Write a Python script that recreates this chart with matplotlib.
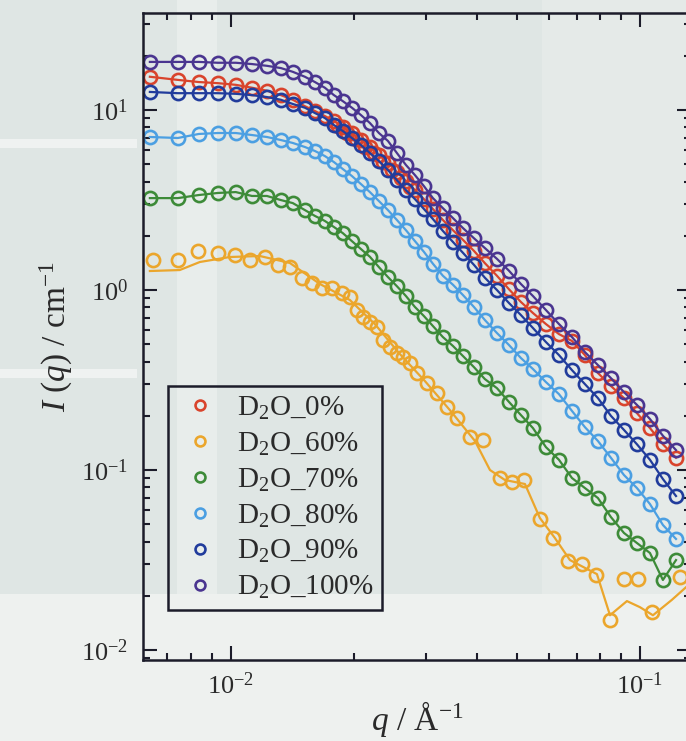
import numpy as np
import matplotlib.pyplot as plt
from matplotlib.patches import Rectangle
from matplotlib.ticker import LogLocator, NullFormatter

plt.rcParams['font.family'] = ['Liberation Serif', 'DejaVu Serif']
plt.rcParams['mathtext.fontset'] = 'custom'
plt.rcParams['mathtext.rm'] = 'Liberation Serif'
plt.rcParams['mathtext.it'] = 'Liberation Serif:italic'
plt.rcParams['axes.unicode_minus'] = False

# scattering vector grid shared by most contrasts (1/A)
q = [0.00634, 0.00742, 0.00835, 0.00929, 0.01028, 0.01126, 0.01225, 0.01325,
     0.01417, 0.01517, 0.01605, 0.01697, 0.01786, 0.01878, 0.01976, 0.02079,
     0.02187, 0.02301, 0.02421, 0.02546, 0.02679, 0.02818, 0.02964, 0.03118,
     0.03298, 0.03490, 0.03692, 0.03928, 0.04178, 0.04471, 0.04784, 0.05117,
     0.05476, 0.05891, 0.06339, 0.06820, 0.07337, 0.07893, 0.08492, 0.09140,
     0.09833, 0.1058, 0.1138, 0.1225]

# intensities (1/cm)
i_0 = [15.3, 14.7, 14.3, 14.1, 13.8, 13.3, 12.8, 12.1, 11.4, 10.5,
       9.87, 9.26, 8.69, 8.05, 7.45, 6.81, 6.23, 5.62, 5.08, 4.52,
       4.03, 3.59, 3.20, 2.82, 2.45, 2.15, 1.90, 1.65, 1.41, 1.20,
       1.01, 0.858, 0.745, 0.647, 0.569, 0.521, 0.435, 0.346, 0.293, 0.251,
       0.207, 0.171, 0.139, 0.117]
# extra overlap points of the 0 % run
q_0x = [0.01826, 0.01921, 0.02021, 0.02126, 0.02237, 0.02353, 0.02475, 0.02604, 0.02740]
i_0x = [8.15, 7.45, 6.90, 6.23, 5.77, 5.14, 4.64, 4.19, 3.73]

i_70 = [3.24, 3.24, 3.37, 3.46, 3.50, 3.33, 3.33, 3.16, 3.04, 2.78,
        2.58, 2.42, 2.24, 2.07, 1.87, 1.69, 1.53, 1.34, 1.18, 1.05,
        0.926, 0.805, 0.717, 0.631, 0.548, 0.489, 0.430, 0.373, 0.320, 0.285,
        0.239, 0.202, 0.171, 0.134, 0.114, 0.0903, 0.0794, 0.0699, 0.0548, 0.0447,
        0.0393, 0.0346, 0.0245, 0.0316]
i_80 = [7.08, 6.99, 7.36, 7.45, 7.45, 7.26, 7.08, 6.81, 6.56, 6.23,
        5.92, 5.55, 5.14, 4.70, 4.30, 3.88, 3.50, 3.12, 2.78, 2.45,
        2.15, 1.87, 1.63, 1.40, 1.20, 1.07, 0.938, 0.805, 0.681, 0.577,
        0.495, 0.419, 0.364, 0.308, 0.264, 0.213, 0.173, 0.145, 0.117, 0.0938,
        0.0794, 0.0647, 0.0495, 0.0414]
i_90 = [12.6, 12.4, 12.4, 12.4, 12.3, 12.1, 11.8, 11.4, 10.8, 10.3,
        9.62, 9.03, 8.25, 7.64, 6.99, 6.39, 5.77, 5.21, 4.64, 4.08,
        3.59, 3.20, 2.82, 2.48, 2.13, 1.85, 1.61, 1.38, 1.17, 1.00,
        0.847, 0.726, 0.615, 0.514, 0.435, 0.359, 0.300, 0.251, 0.200, 0.167,
        0.139, 0.114, 0.0891, 0.0717]
i_100 = [18.5, 18.5, 18.5, 18.3, 18.3, 18.0, 17.6, 17.1, 16.3, 15.3,
         14.3, 13.3, 12.1, 11.2, 10.3, 9.38, 8.47, 7.45, 6.73, 5.77,
         4.95, 4.35, 3.78, 3.24, 2.85, 2.51, 2.21, 1.94, 1.71, 1.49,
         1.28, 1.08, 0.926, 0.774, 0.647, 0.548, 0.452, 0.383, 0.324, 0.271,
         0.230, 0.192, 0.155, 0.129]

# 60 % contrast was measured on its own grid
q_60 = [0.00645, 0.00742, 0.00830, 0.00929, 0.01023, 0.01113, 0.01211, 0.01303,
        0.01394, 0.01492, 0.01578, 0.01669, 0.01766, 0.01868, 0.01954, 0.02033,
        0.02102, 0.02187, 0.02275, 0.02353, 0.02448, 0.02546, 0.02634, 0.02740,
        0.02850, 0.03015, 0.03189, 0.03374, 0.03570, 0.03841, 0.04132, 0.04547,
        0.04864, 0.05204, 0.05694, 0.06128, 0.06668, 0.07214, 0.07805, 0.08449,
        0.09140, 0.09888, 0.1070, 0.1253]
i_60 = [1.47, 1.47, 1.65, 1.61, 1.56, 1.47, 1.53, 1.38, 1.34, 1.17,
        1.09, 1.03, 1.03, 0.962, 0.914, 0.774, 0.708, 0.664, 0.623, 0.527,
        0.482, 0.447, 0.424, 0.393, 0.346, 0.304, 0.268, 0.224, 0.195, 0.153,
        0.147, 0.0903, 0.0858, 0.0880, 0.0534, 0.0419, 0.0312, 0.0300, 0.0261, 0.0147,
        0.0248, 0.0248, 0.0163, 0.0254]
# fitted curve for 60 %
q_60fit = [0.00634, 0.00750, 0.00840, 0.00994, 0.01177, 0.01394, 0.01651, 0.01954,
           0.02249, 0.02589, 0.02981, 0.03432, 0.03951, 0.04299, 0.04677, 0.05235,
           0.05694, 0.06196, 0.06743, 0.07850, 0.08449, 0.09294, 0.1000, 0.1076,
           0.1197, 0.1332]
i_60fit = [1.275, 1.291, 1.431, 1.525, 1.545, 1.413, 1.080, 0.880,
           0.647, 0.441, 0.312, 0.215, 0.145, 0.100, 0.0880, 0.0836,
           0.0541, 0.0419, 0.0316, 0.0264, 0.0156, 0.0187, 0.0173, 0.0156,
           0.0190, 0.0236]

labels = ['D$_2$O_0%', 'D$_2$O_60%', 'D$_2$O_70%', 'D$_2$O_80%', 'D$_2$O_90%', 'D$_2$O_100%']
colors = ['#d9442c', '#eba62c', '#3d8b38', '#4b9fe2', '#213c9c', '#4a3590']

series = [
    (q, i_0, q, i_0),
    (q_60, i_60, q_60fit, i_60fit),
    (q, i_70, q, i_70),
    (q, i_80, q, i_80),
    (q, i_90, q, i_90),
    (q, i_100, q, i_100),
]

bg = '#dfe6e4'
ink = '#1c1c2a'
fig = plt.figure(figsize=(6.86, 7.41), dpi=100, facecolor=bg)

# paper tone: lighter strips behind the plot
for x0, y0, w, h, c in [(0.0, 0.0, 1.0, 0.198, '#eef1ef'),
                        (0.258, 0.198, 0.058, 0.802, '#e8edeb'),
                        (0.79, 0.198, 0.21, 0.802, '#e5eae8'),
                        (0.0, 0.49, 0.2, 0.012, '#eff2f1'),
                        (0.0, 0.80, 0.2, 0.012, '#eff2f1')]:
    fig.patches.append(Rectangle((x0, y0), w, h, transform=fig.transFigure,
                                 facecolor=c, edgecolor='none', zorder=-5))

ax = fig.add_axes([0.2085, 0.1093, 0.7988, 0.8732])
ax.set_facecolor('none')

mk = dict(marker='o', ls='none', ms=9.5, mfc='none', mew=1.9)
for k, (qd, idat, qf, ifit) in enumerate(series):
    c = colors[k]
    ax.plot(qd, idat, color=c, label=labels[k], **mk)
    if k == 0:
        ax.plot(q_0x, i_0x, color=c, **mk)
    ax.plot(qf, ifit, color=c, lw=1.6)

ax.set_xscale('log')
ax.set_yscale('log')
ax.set_xlim(0.0061, 0.1333)
ax.set_ylim(0.0088, 34.6)

for a in (ax.xaxis, ax.yaxis):
    a.set_major_locator(LogLocator(base=10, numticks=10))
    a.set_minor_locator(LogLocator(base=10, subs=np.arange(2, 10), numticks=10))
    a.set_minor_formatter(NullFormatter())

ax.tick_params(which='both', direction='in', top=True, right=True, color=ink,
               width=1.5, labelsize=19, labelcolor='#2a2a2a')
ax.tick_params(which='major', length=10)
ax.tick_params(which='minor', length=5)
ax.tick_params(axis='y', pad=11)
ax.tick_params(axis='x', pad=9)
for s in ax.spines.values():
    s.set_linewidth(1.8)
    s.set_color(ink)

ax.set_xlabel('$q$ / Å$^{-1}$', fontsize=24, color='#2a2a2a', labelpad=0)
ax.set_ylabel('$I$ ($q$) / cm$^{-1}$', fontsize=24, color='#2a2a2a', labelpad=4)

leg = ax.legend(loc='lower left', bbox_to_anchor=(0.046, 0.077), fontsize=21,
                frameon=True, fancybox=False, framealpha=1, edgecolor=ink,
                handlelength=1.6, handletextpad=0.45, labelspacing=0.3,
                borderpad=0.3, borderaxespad=0, markerscale=0.75)
leg.get_frame().set_facecolor('none')
leg.get_frame().set_linewidth(1.8)
for t in leg.get_texts():
    t.set_color('#2a2a2a')

fig.savefig('out.png', dpi=100, facecolor=bg)
